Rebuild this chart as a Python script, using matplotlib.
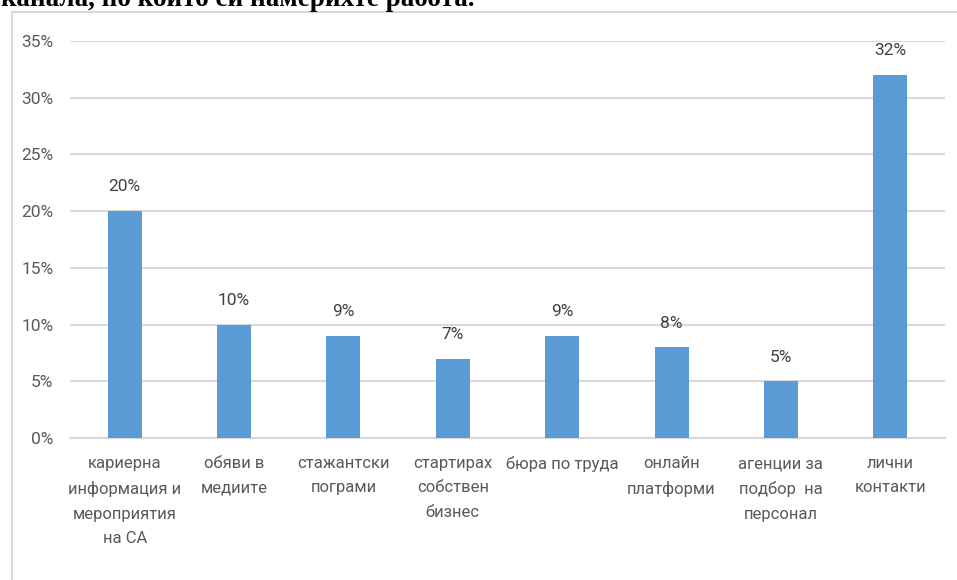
import matplotlib
matplotlib.use('Agg')
from matplotlib import pyplot as plt
from matplotlib.patches import Rectangle
from matplotlib.ticker import FuncFormatter

categories = ['кариерна\nинформация и\nмероприятия\nна СА', 'обяви в\nмедиите', 'стажантски\nпограми',
              'стартирах\nсобствен\nбизнес', 'бюра по труда', 'онлайн\nплатформи',
              'агенции за\nподбор  на\nперсонал', 'лични\nконтакти']
values = [0.20, 0.10, 0.09, 0.07, 0.09, 0.08, 0.05, 0.32]
yticks = [0, 0.05, 0.10, 0.15, 0.20, 0.25, 0.30, 0.35]

plt.rcParams['font.family'] = ['Roboto', 'DejaVu Sans']

W, H = 957, 580
fig = plt.figure(figsize=(W / 100, H / 100), dpi=100)

# chart border (the box of the embedded chart)
fig.patches.append(Rectangle((12 / W, -0.1), 1.1, (H - 12) / H + 0.1, transform=fig.transFigure,
                             fill=False, edgecolor='#d9d9d9', linewidth=1.5))

# heading from the document, cut at the top as in the source
fig.text(1 / W, 1 - 6 / H, 'канала, по които си намерихте работа.', family=['Liberation Serif', 'DejaVu Serif'],
         fontweight='bold', fontsize=19.5, color='black', ha='left', va='baseline')

ax = fig.add_axes([70 / W, (H - 438) / H, (945 - 70) / W, (438 - 41) / H])
x = range(len(categories))
bars = ax.bar(x, values, width=0.31, color='#5b9bd5', zorder=3)
for xi, v in zip(x, values):
    ax.annotate(f'{round(v * 100)}%', (xi, v), xytext=(0, 12), textcoords='offset points',
                ha='center', va='bottom', fontsize=12.5, color='#404040')

ax.set_xlim(-0.5, len(categories) - 0.5)
ax.set_ylim(0, 0.35)
ax.set_yticks(yticks)
ax.yaxis.set_major_formatter(FuncFormatter(lambda v, p: f'{round(v * 100)}%'))
ax.set_xticks(list(x))
ax.set_xticklabels(categories, fontsize=12, color='#595959', linespacing=1.78)
ax.tick_params(axis='y', labelsize=12.5, labelcolor='#595959', length=0, pad=12)
ax.tick_params(axis='x', length=0, pad=13)
ax.grid(axis='y', color='#d9d9d9', linewidth=1.5, zorder=0)
for s in ['top', 'right', 'left']:
    ax.spines[s].set_visible(False)
ax.spines['bottom'].set_color('#d9d9d9')
ax.spines['bottom'].set_linewidth(1.5)

plt.savefig('out.png', dpi=100)
